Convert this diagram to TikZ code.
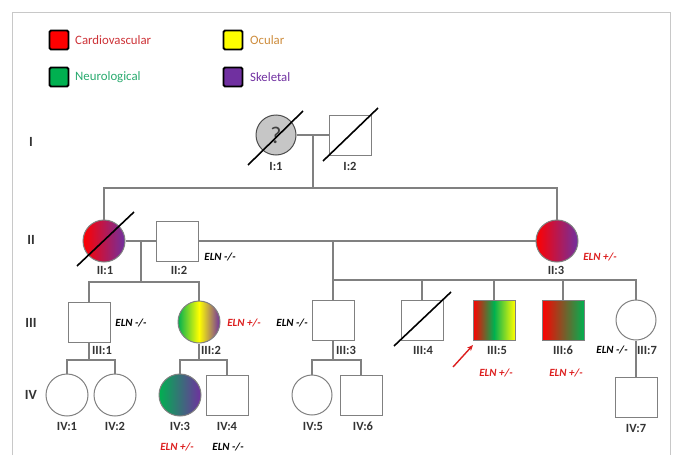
\documentclass[tikz,border=0pt]{standalone}
\usepackage{fontspec}
\setmainfont{Carlito}[BoldFont={Carlito Bold},ItalicFont={Carlito Italic},BoldItalicFont={Carlito Bold Italic}]
\usetikzlibrary{calc,arrows.meta}
\definecolor{cvred}{RGB}{255,0,0}
\definecolor{ocyel}{RGB}{255,255,0}
\definecolor{neugreen}{RGB}{0,176,80}
\definecolor{skpurple}{RGB}{112,48,160}
\definecolor{linegray}{RGB}{128,128,128}
\definecolor{framegray}{RGB}{200,200,200}
\definecolor{cvtext}{RGB}{205,50,55}
\definecolor{octext}{RGB}{205,140,60}
\definecolor{neutext}{RGB}{40,170,110}
\definecolor{sktext}{RGB}{112,48,160}
\definecolor{elnred}{RGB}{220,30,30}
\begin{document}
\begin{tikzpicture}[x=1pt,y=-1pt,
 sq/.style={draw=linegray, line width=1pt, minimum width=42pt, minimum height=40pt, inner sep=0pt, fill=white},
 ci/.style={circle, draw=linegray, line width=1pt, minimum size=42pt, inner sep=0pt, fill=white},
 conn/.style={draw=linegray, line width=1.2pt},
 dead/.style={draw=black, line width=1.6pt},
 lbl/.style={font=\fontsize{12.5}{13}\selectfont\bfseries, text=black!80, inner sep=0pt},
 eln/.style={font=\fontsize{11}{12}\selectfont\bfseries\itshape, inner sep=0pt},
 gen/.style={font=\fontsize{14}{15}\selectfont\bfseries, text=black!80, inner sep=0pt},
 leg/.style={draw=black, line width=1.8pt, rounded corners=1.5pt, minimum size=19pt, inner sep=0pt},
 legt/.style={font=\fontsize{12.8}{16}\selectfont, anchor=west, inner sep=0pt},
]
\useasboundingbox (0,0) rectangle (676,455);
\draw[framegray, line width=1pt] (12,455) -- (12,12) -- (670,12) -- (670,455);

% legend
\node[leg, fill=cvred] (Lcv) at (59,40) {};
\node[legt, text=cvtext] (Tcv) at (75,40) {Cardiovascular};
\node[leg, fill=ocyel] (Loc) at (233,40) {};
\node[legt, text=octext] (Toc) at (250,40) {Ocular};
\node[leg, fill=neugreen] (Lne) at (59,77) {};
\node[legt, text=neutext] (Tne) at (75,77) {Neurological};
\node[leg, fill=skpurple] (Lsk) at (233,77) {};
\node[legt, text=sktext] (Tsk) at (250,77) {Skeletal};

% generation labels
\node[gen] (gI) at (31,142) {I};
\node[gen] (gII) at (31,240) {II};
\node[gen] (gIII) at (31,323) {III};
\node[gen] (gIV) at (31,395) {IV};

% generation I
\node[ci, minimum size=40pt, fill=gray!45, draw=gray!60!black] (I1) at (276,135) {\fontsize{24}{24}\selectfont\color{black!75}?};
\node[sq] (I2) at (350,135) {};
\node[lbl] (I1l) at (276,166) {I:1};
\node[lbl] (I2l) at (350,166) {I:2};

% generation II
\node[ci, left color=cvred, right color=skpurple] (II1) at (104,241) {};
\node[sq] (II2) at (177,241) {};
\node[ci, left color=cvred, right color=skpurple] (II3) at (557,241) {};
\node[lbl] (II1l) at (105,270) {II:1};
\node[lbl] (II2l) at (179,270) {II:2};
\node[lbl] (II3l) at (556,270) {II:3};
\node[eln] (II2e) at (220,257) {ELN -/-};
\node[eln, text=elnred] (II3e) at (600,257) {ELN +/-};

% generation III
\node[sq] (III1) at (89,322) {};
\node[ci, left color=neugreen, right color=skpurple, middle color=ocyel] (III2) at (199,322) {};
\node[sq] (III3) at (333,320) {};
\node[sq] (III4) at (422,320) {};
\node[sq, left color=cvred, right color=ocyel, middle color=neugreen] (III5) at (494,320) {};
\node[sq, left color=cvred, right color=neugreen] (III6) at (563,320) {};
\node[ci, minimum size=40pt] (III7) at (636,320) {};
\node[lbl] (III1l) at (102,350) {III:1};
\node[lbl] (III2l) at (211,350) {III:2};
\node[lbl] (III3l) at (346,350) {III:3};
\node[lbl] (III4l) at (423,350) {III:4};
\node[lbl] (III5l) at (497,350) {III:5};
\node[lbl] (III6l) at (563,350) {III:6};
\node[lbl] (III7l) at (647,350) {III:7};
\node[eln] (III1e) at (131,323) {ELN -/-};
\node[eln, text=elnred] (III2e) at (244,323) {ELN +/-};
\node[eln] (III3e) at (292,323) {ELN -/-};
\node[eln, text=elnred] (III5e) at (496,373) {ELN +/-};
\node[eln, text=elnred] (III6e) at (566,373) {ELN +/-};
\node[eln] (III7e) at (612,350) {ELN -/-};

% generation IV
\node[ci] (IV1) at (67,395) {};
\node[ci] (IV2) at (115,395) {};
\node[ci, left color=neugreen, right color=skpurple] (IV3) at (180,395) {};
\node[sq] (IV4) at (227,395) {};
\node[ci, minimum size=40pt] (IV5) at (312,395) {};
\node[sq] (IV6) at (361,395) {};
\node[sq] (IV7) at (636,397) {};
\node[lbl] (IV1l) at (67,426) {IV:1};
\node[lbl] (IV2l) at (115,426) {IV:2};
\node[lbl] (IV3l) at (180,426) {IV:3};
\node[lbl] (IV4l) at (227,426) {IV:4};
\node[lbl] (IV5l) at (313,426) {IV:5};
\node[lbl] (IV6l) at (363,426) {IV:6};
\node[lbl] (IV7l) at (636,428) {IV:7};
\node[eln, text=elnred] (IV3e) at (177,447) {ELN +/-};
\node[eln] (IV4e) at (228,447) {ELN -/-};

% connectors generation I -> II
\coordinate (mI) at (313,135);
\coordinate (sII) at (313,188);
\draw[conn] (I1.east) -- (I2.west);
\draw[conn] (mI) -- (sII);
\draw[conn] (II1.north) -- (II1.north |- sII) -- (II3.north |- sII) -- (II3.north);

% II:1 x II:2
\coordinate (mA) at (141,241);
\coordinate (sA) at (141,282);
\draw[conn] (II1.east) -- (II2.west);
\draw[conn] (mA) -- (sA);
\draw[conn] (III1.north) -- (III1.north |- sA) -- (III2.north |- sA) -- (III2.north);

% II:2 x II:3
\coordinate (mB) at (333,241);
\coordinate (sB) at (333,280);
\draw[conn] (II2.east) -- (II3.west);
\draw[conn] (mB) -- (III3.north);
\draw[conn] (sB) -- (III7.north |- sB) -- (III7.north);
\draw[conn] (III4.north) -- (III4.north |- sB);
\draw[conn] (III5.north) -- (III5.north |- sB);
\draw[conn] (III6.north) -- (III6.north |- sB);

% generation III -> IV
\coordinate (sC) at (89,360);
\draw[conn] (III1.south) -- (sC);
\draw[conn] (IV1.north) -- (IV1.north |- sC) -- (IV2.north |- sC) -- (IV2.north);
\coordinate (sD) at (199,360);
\draw[conn] (III2.south) -- (sD);
\draw[conn] (IV3.north) -- (IV3.north |- sD) -- (IV4.north |- sD) -- (IV4.north);
\coordinate (sE) at (333,360);
\draw[conn] (III3.south) -- (sE);
\draw[conn] (IV5.north) -- (IV5.north |- sE) -- (IV6.north |- sE) -- (IV6.north);
\draw[conn] (III7.south) -- (IV7.north);

% deceased marks
\draw[dead] ($(I1)+(-28,30)$) -- ($(I1)+(27,-24)$);
\draw[dead] ($(I2)+(-27,26)$) -- ($(I2)+(28,-27)$);
\draw[dead] ($(II1)+(-27,25)$) -- ($(II1)+(30,-29)$);
\draw[dead] ($(III4)+(-28,26)$) -- ($(III4)+(29,-28)$);

% proband arrow
\coordinate (arT) at (453,367);
\coordinate (arH) at (473,345);
\draw[elnred, line width=1.4pt, -{Stealth[length=6pt,width=5pt]}] (arT) -- (arH);
\end{tikzpicture}
\end{document}
